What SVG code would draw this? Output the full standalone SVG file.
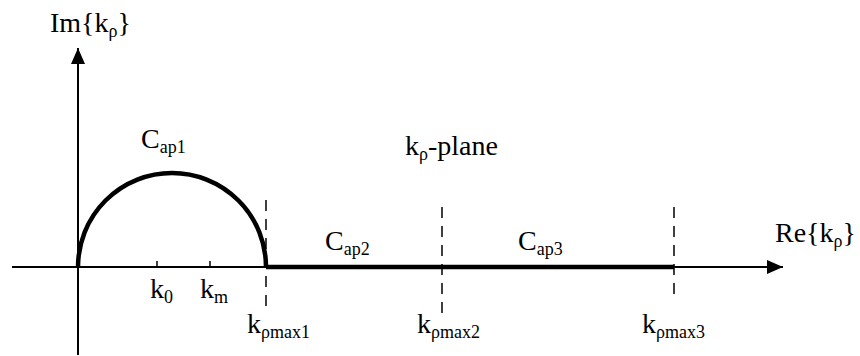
<svg xmlns="http://www.w3.org/2000/svg" width="860" height="356" viewBox="0 0 860 356">
<style>
  .t { font-family: "Liberation Serif", "Times New Roman", serif; font-size: 28px; fill: #000; }
  .s { font-size: 18px; }
  .axis { stroke: #000; stroke-width: 2; fill: none; }
  .thick { stroke: #000; stroke-width: 4.5; fill: none; }
  .dash { stroke: #000; stroke-width: 1.5; stroke-dasharray: 11 8; fill: none; }
  .tick { stroke: #000; stroke-width: 1.5; }
</style>
<defs>
  <marker id="arr" viewBox="0 0 16 14" refX="16" refY="7" markerWidth="16" markerHeight="14" markerUnits="userSpaceOnUse" orient="auto">
    <path d="M0,0 L16,7 L0,14 Z" fill="#000"/>
  </marker>
</defs>
<rect width="860" height="356" fill="#fff"/>
<g id="connectors">
  <line class="axis" x1="12" y1="267" x2="783" y2="267" marker-end="url(#arr)"/>
  <line class="axis" x1="78" y1="355" x2="78" y2="48" marker-end="url(#arr)"/>
  <line class="dash" x1="266" y1="200" x2="266" y2="314"/>
  <line class="dash" x1="442" y1="207" x2="442" y2="314"/>
  <line class="dash" x1="674" y1="207" x2="674" y2="300"/>
</g>
<g id="contour">
  <path class="thick" d="M78,267 A94,94 0 0 1 266,267"/>
  <line class="thick" x1="266" y1="267" x2="674" y2="267"/>
</g>
<g id="ticks">
  <line class="tick" x1="157" y1="261" x2="157" y2="267"/>
  <line class="tick" x1="210" y1="261" x2="210" y2="267"/>
</g>
<g id="labels" font-family="'Liberation Serif', 'Times New Roman', serif">
  <text class="t" x="50" y="32">Im{k<tspan class="s" dy="5">ρ</tspan><tspan dy="-5">}</tspan></text>
  <text class="t" x="775" y="242">Re{k<tspan class="s" dy="5">ρ</tspan><tspan dy="-5">}</tspan></text>
  <text class="t" x="141" y="148">C<tspan class="s" dy="5">ap1</tspan></text>
  <text class="t" x="405" y="155">k<tspan class="s" dy="5">ρ</tspan><tspan dy="-5">-plane</tspan></text>
  <text class="t" x="325" y="250">C<tspan class="s" dy="5">ap2</tspan></text>
  <text class="t" x="518" y="250">C<tspan class="s" dy="5">ap3</tspan></text>
  <text class="t" x="150" y="298">k<tspan class="s" dy="5">0</tspan></text>
  <text class="t" x="200" y="298">k<tspan class="s" dy="5">m</tspan></text>
  <text class="t" x="247" y="333">k<tspan class="s" dy="5">ρmax1</tspan></text>
  <text class="t" x="417" y="333">k<tspan class="s" dy="5">ρmax2</tspan></text>
  <text class="t" x="642" y="333">k<tspan class="s" dy="5">ρmax3</tspan></text>
</g>
</svg>
